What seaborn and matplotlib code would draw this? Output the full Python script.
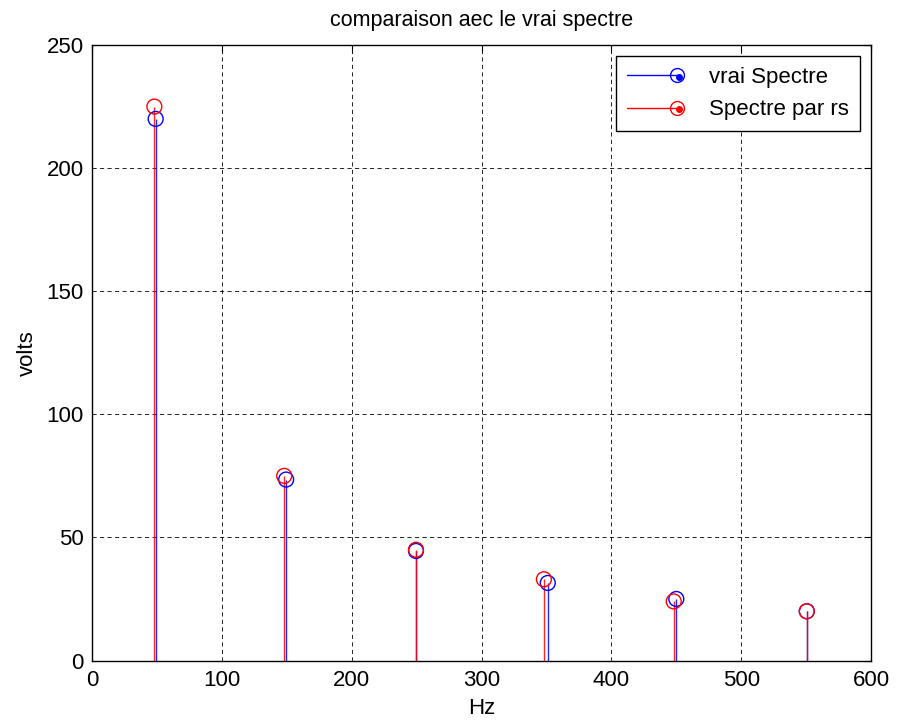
import matplotlib
matplotlib.use("Agg")
import matplotlib.pyplot as plt
import seaborn as sns
import pandas as pd
from matplotlib.lines import Line2D
from matplotlib.legend_handler import HandlerBase

# spectrum values
freq_vrai = [49, 149.5, 249.5, 351, 450, 550.5]
amp_vrai = [220, 73.5, 44.5, 31.5, 25, 20]
freq_rs = [48, 148, 249.5, 348, 448, 550.5]
amp_rs = [225, 75, 45, 33, 24, 20]

x_ticks = [0, 100, 200, 300, 400, 500, 600]
y_ticks = [0, 50, 100, 150, 200, 250]
labels = ['vrai Spectre', 'Spectre par rs']


class StemHandler(HandlerBase):
    # matlab style legend entry: line, open circle at the end, dot inside
    def create_artists(self, legend, orig_handle, xdescent, ydescent,
                       width, height, fontsize, trans):
        c = orig_handle.get_color()
        y = height / 2 - ydescent
        x1 = width - xdescent
        line = Line2D([-xdescent, x1], [y, y], color=c, lw=1)
        circ = Line2D([x1 - 2], [y], marker='o', ms=10, mfc='none', mec=c,
                      mew=1, lw=0)
        dot = Line2D([x1 - 0.5], [y - 1], marker='o', ms=4, color=c, lw=0)
        for a in (line, circ, dot):
            a.set_transform(trans)
        return [line, circ, dot]


sns.set_style("white")
plt.rcParams['font.family'] = ['Liberation Sans', 'DejaVu Sans']
plt.rcParams['text.color'] = 'black'
plt.rcParams['axes.labelcolor'] = 'black'

fig = plt.figure(figsize=(8.98, 7.24), dpi=100)
ax = fig.add_axes([0.1025, 0.0877, 0.8675, 0.8501])

df = pd.concat([
    pd.DataFrame({'Hz': freq_vrai, 'volts': amp_vrai, 'serie': labels[0]}),
    pd.DataFrame({'Hz': freq_rs, 'volts': amp_rs, 'serie': labels[1]}),
])
palette = {labels[0]: 'blue', labels[1]: 'red'}

# stems
for name, g in df.groupby('serie', sort=False):
    ax.vlines(g['Hz'], 0, g['volts'], color=palette[name], lw=1,
              alpha=0.85, zorder=2)

sns.scatterplot(data=df, x='Hz', y='volts', hue='serie', palette=palette,
                marker='o', s=115, linewidth=1, ax=ax, legend=False, zorder=3)
coll = ax.collections[-1]
coll.set_facecolor('none')
coll.set_edgecolor([palette[s] for s in df['serie']])

ax.set_xlim(0, 600)
ax.set_ylim(0, 250)
ax.set_xticks(x_ticks)
ax.set_yticks(y_ticks)
ax.tick_params(direction='in', length=5, labelsize=16, colors='black',
               top=True, right=True)
ax.tick_params(axis='x', pad=7)
ax.tick_params(axis='y', pad=6)
ax.grid(True, color='black', linestyle=(0, (5, 4)), linewidth=0.6)
for sp in ax.spines.values():
    sp.set_color('black')
    sp.set_linewidth(1)

ax.set_title('comparaison aec le vrai spectre', fontsize=15.5, pad=14,
             color='black')
ax.set_xlabel('Hz', fontsize=16, labelpad=5)
ax.set_ylabel('volts', fontsize=16, labelpad=6)

handles = [Line2D([], [], color=palette[n]) for n in labels]
leg = ax.legend(handles, labels, handler_map={Line2D: StemHandler()},
                loc='upper right', fontsize=16, frameon=True, fancybox=False,
                edgecolor='black', framealpha=1, handlelength=2.4,
                borderaxespad=0.5, borderpad=0.5, labelspacing=0.5,
                handletextpad=1.3)
leg.get_frame().set_linewidth(1)
for t in leg.get_texts():
    t.set_color('black')

fig.savefig('out.png', dpi=100)
